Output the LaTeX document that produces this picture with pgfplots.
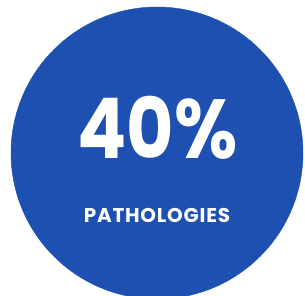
\documentclass[border=0pt]{standalone}
\usepackage{pgfplots}
\pgfplotsset{compat=1.18}
\usepackage{fontspec}
\setmainfont{Poppins}
\definecolor{disc}{HTML}{1D50B1}
\begin{document}
\begin{tikzpicture}
\useasboundingbox (0,0) rectangle (305bp,296bp);
\begin{axis}[at={(0,0)},anchor=south west,scale only axis,width=305bp,height=296bp,
  xmin=0,xmax=305,ymin=0,ymax=296,hide axis,clip=true]
\addplot[only marks,mark=*,mark size=146bp,color=disc,mark options={draw=disc,fill=disc}] coordinates {(157,143)};
\coordinate (big) at (axis cs:157.5,137.5);
\coordinate (small) at (axis cs:157,73.5);
\end{axis}
\node[anchor=base,text=white,font=\fontsize{84}{84}\selectfont\bfseries,inner sep=0pt] at (big) {\scalebox{0.87}[1]{40\%}};
\node[anchor=base,text=white,font=\fontsize{20}{20}\selectfont\bfseries,inner sep=0pt] at (small) {\addfontfeature{LetterSpace=4}PATHOLOGIES};
\end{tikzpicture}
\end{document}
